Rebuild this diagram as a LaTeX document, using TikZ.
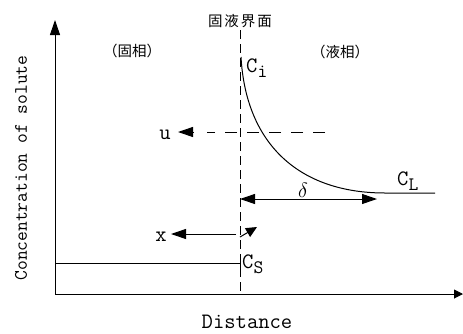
\documentclass[tikz,border=0pt]{standalone}
\usepackage{fontspec}
\newfontfamily\cjk{Noto Sans CJK SC}
\usetikzlibrary{arrows.meta}
\tikzset{
  ln/.style={line width=1pt,black},
  tipbig/.style={-{Triangle[length=15pt,width=10pt]}},
  lbl/.style={inner sep=0pt,font=\ttfamily\fontsize{22}{22}\selectfont},
  cjklbl/.style={inner sep=0pt,font=\cjk\fontsize{14.5}{15}\selectfont},
  vdash/.style={dash pattern=on 9pt off 5pt},
  hdash/.style={dash pattern=on 12pt off 10pt},
}
\newcommand{\subsc}[1]{\raisebox{-5pt}{\fontsize{19}{19}\selectfont #1}}
\begin{document}
\begin{tikzpicture}[x=1pt,y=-1pt]
\useasboundingbox (0,0) rectangle (463,333);
% axes
\coordinate (O) at (55,294);
\coordinate (ytop) at (55,20);
\coordinate (xend) at (463,294);
\draw[ln,-{Triangle[length=15pt,width=10pt]}] (O) -- (ytop);
\draw[ln,-{Triangle[length=9pt,width=9pt]}] (O) -- (xend);
% interface
\coordinate (itop) at (240,30);
\coordinate (ibot) at (240,294);
\draw[ln,vdash] (itop) -- (ibot);
\node[cjklbl] (iface) at (240,21) {固\hspace{2pt}液\hspace{2pt}界\hspace{2pt}面};
\node[cjklbl] (solid) at (132,51) {（固相）};
\node[cjklbl] (liquid) at (340,52) {（液相）};
% curve
\coordinate (ci) at (241,57);
\coordinate (cl) at (385,193);
\coordinate (clend) at (435,193);
\draw[ln] (ci) .. controls (246,145) and (300,193) .. (cl) -- (clend);
\node[lbl,anchor=west] (Ci) at (246,68) {C\subsc{i}};
\node[lbl,anchor=west] (CL) at (397,181) {C\subsc{L}};
% u
\coordinate (us) at (325,132);
\coordinate (ue) at (178,132);
\draw[ln,hdash] (us) -- (207,132);
\draw[ln,tipbig] (194,132) -- (ue);
\node[lbl] (u) at (165,135) {u};
% delta
\coordinate (d1) at (240,199);
\coordinate (d2) at (377,199);
\draw[ln,{Triangle[length=15pt,width=10pt]}-{Triangle[length=15pt,width=10pt]}] (d1) -- (d2);
\node[inner sep=0pt,font=\fontsize{21}{21}\selectfont] (dl) at (303,190) {$\delta$};
% x
\coordinate (xs) at (236,234);
\coordinate (xe) at (171,234);
\draw[ln,tipbig] (xs) -- (xe);
\node[lbl] (xl) at (161,237) {x};
\coordinate (sa) at (240,237);
\coordinate (sb) at (257,227);
\draw[ln,-{Triangle[length=11pt,width=10pt]}] (sa) -- (sb);
% CS
\coordinate (cs0) at (55,263);
\coordinate (cs1) at (240,263);
\draw[ln] (cs0) -- (cs1);
\draw[ln] (240,256) -- (240,271);
\node[lbl,anchor=west] (CS) at (242,264) {C\subsc{S}};
% axis labels
\node[inner sep=0pt,font=\ttfamily\fontsize{22}{22}\selectfont] (dist) at (247,322) {Distance};
\node[inner sep=0pt,font=\ttfamily\fontsize{19}{19}\selectfont,rotate=90] (conc) at (21,168) {Concentration of solute};
\end{tikzpicture}
\end{document}
